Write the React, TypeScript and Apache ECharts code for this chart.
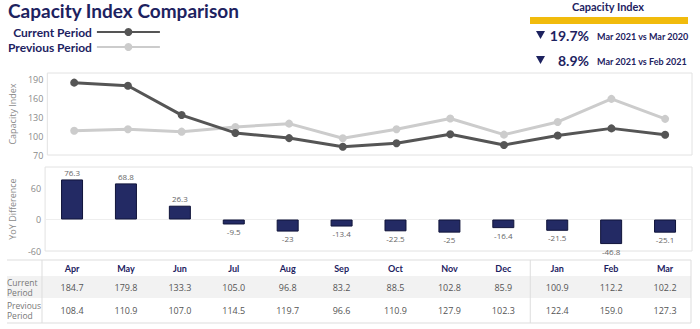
import React, { useEffect, useRef } from "react";
import * as echarts from "echarts";

const months = ["Apr", "May", "Jun", "Jul", "Aug", "Sep", "Oct", "Nov", "Dec", "Jan", "Feb", "Mar"];
const currentPeriod = [184.7, 179.8, 133.3, 105.0, 96.8, 83.2, 88.5, 102.8, 85.9, 100.9, 112.2, 102.2];
const previousPeriod = [108.4, 110.9, 107.0, 114.5, 119.7, 96.6, 110.9, 127.9, 102.3, 122.4, 159.0, 127.3];
const yoyDifference = [76.3, 68.8, 26.3, -9.5, -23, -13.4, -22.5, -25, -16.4, -21.5, -46.8, -25.1];
const kpiValues = ["19.7%", "8.9%"];
const kpiLabels = ["Mar 2021 vs Mar 2020", "Mar 2021 vs Feb 2021"];
const rowLabels = [["Current", "Period"], ["Previous", "Period"]];

const NAVY = "#1d225f";
const FONT = "'Open Sans', sans-serif";
const LATO = "Lato, sans-serif";

export default function App() {
  const ref = useRef<HTMLDivElement>(null);
  useEffect(() => {
    document.body.style.margin = "0";
    const chart = echarts.init(ref.current!, null, { renderer: "svg" });
    chart.setOption({
      animation: false,
      textStyle: { fontFamily: FONT },
      legend: {
        orient: "vertical",
        left: 8,
        top: 26,
        align: "right",
        itemWidth: 63,
        itemHeight: 10,
        itemGap: 3,
        padding: 0,
        data: ["Current Period", "Previous Period"],
        textStyle: { fontFamily: LATO, fontWeight: "bold", fontSize: 12, color: NAVY, width: 90, align: "left" },
      },
      grid: [
        { left: 41, right: 8, top: 73, height: 82, show: true, borderColor: "#e2e2e2", borderWidth: 1 },
        { left: 41, right: 8, top: 167, height: 84, show: true, borderColor: "#e2e2e2", borderWidth: 1 },
      ],
      xAxis: [
        { type: "category", gridIndex: 0, data: months, axisLine: { show: false }, axisTick: { show: false }, axisLabel: { show: false } },
        { type: "category", gridIndex: 1, data: months, axisLine: { show: true, onZero: true, lineStyle: { color: "#eeeeee" } }, axisTick: { show: false }, axisLabel: { show: false } },
      ],
      yAxis: [
        {
          type: "value", gridIndex: 0, min: 70, max: 200, interval: 30,
          splitLine: { show: false }, axisLine: { show: false }, axisTick: { show: false },
          axisLabel: { fontSize: 9, color: "#8a8a8a", margin: 4, formatter: (v: number) => (v > 195 ? "" : String(v)) },
          name: "Capacity Index", nameLocation: "middle", nameGap: 24,
          nameTextStyle: { fontSize: 9, color: "#8a8a8a" },
        },
        {
          type: "value", gridIndex: 1, min: -60, max: 100, interval: 60,
          splitLine: { show: false }, axisLine: { show: false }, axisTick: { show: false },
          axisLabel: { fontSize: 9, color: "#8a8a8a", margin: 4, formatter: (v: number) => (v > 90 ? "" : String(v)) },
          name: "YoY Difference", nameLocation: "middle", nameGap: 24,
          nameTextStyle: { fontSize: 9, color: "#8a8a8a" },
        },
      ],
      series: [
        {
          name: "Previous Period", type: "line", xAxisIndex: 0, yAxisIndex: 0, data: previousPeriod,
          symbol: "circle", symbolSize: 8,
          lineStyle: { color: "#cccccc", width: 3 }, itemStyle: { color: "#cccccc" },
        },
        {
          name: "Current Period", type: "line", xAxisIndex: 0, yAxisIndex: 0, data: currentPeriod,
          symbol: "circle", symbolSize: 8,
          lineStyle: { color: "#555555", width: 3 }, itemStyle: { color: "#555555" },
        },
        {
          name: "YoY", type: "bar", xAxisIndex: 1, yAxisIndex: 1, barWidth: 22,
          itemStyle: { color: "#232a64", borderColor: "#10143a", borderWidth: 1 },
          data: yoyDifference.map((v) => ({
            value: v,
            label: { show: true, position: v < 0 ? "bottom" : "top", distance: 3, fontSize: 8, color: "#666" },
          })),
        },
      ],
    });

    const xs = months.map((m) => chart.convertToPixel({ xAxisIndex: 1 }, m) as number);
    const tableLeft = 7;
    const tableRight = 691;
    const top = 260;
    const bottom = 323;
    const sepX = (xs[8] + xs[9]) / 2;
    const rowYs = [287, 310];
    const tableData = [currentPeriod, previousPeriod];
    const line = (x1: number, y1: number, x2: number, y2: number) => ({
      type: "line", shape: { x1, y1, x2, y2 }, style: { stroke: "#dddddd", lineWidth: 1 },
    });

    const g: any[] = [];
    g.push({ type: "text", left: 8, top: 1, style: { text: "Capacity Index Comparison", fontFamily: LATO, fontWeight: "bold", fontSize: 19, fill: NAVY } });
    g.push({ type: "text", x: 608, y: 6, style: { text: "Capacity Index", fontFamily: LATO, fontWeight: "bold", fontSize: 11, fill: NAVY, align: "center", verticalAlign: "middle" } });
    g.push({ type: "rect", shape: { x: 530, y: 17, width: 158, height: 7 }, style: { fill: "#f1bb0c" } });
    [35, 60].forEach((cy, i) => {
      g.push({ type: "polygon", shape: { points: [[536, cy - 4], [545, cy - 4], [540.5, cy + 4]] }, style: { fill: NAVY } });
      g.push({ type: "text", x: 589, y: cy, style: { text: kpiValues[i], fontFamily: LATO, fontWeight: "bold", fontSize: 14, fill: NAVY, align: "right", verticalAlign: "middle" } });
      g.push({ type: "text", x: 597, y: cy + 1, style: { text: kpiLabels[i], fontFamily: LATO, fontWeight: "bold", fontSize: 9, fill: NAVY, align: "left", verticalAlign: "middle" } });
    });
    g.push({ type: "rect", shape: { x: tableLeft, y: 276, width: tableRight - tableLeft, height: 22 }, style: { fill: "#f2f2f2" } });
    g.push(line(tableLeft, top, tableRight, top));
    g.push(line(tableLeft, bottom, tableRight, bottom));
    g.push(line(42, top, 42, bottom));
    g.push(line(sepX, top, sepX, bottom));
    g.push(line(tableRight, top, tableRight, bottom));
    months.forEach((m, i) => {
      g.push({ type: "text", x: xs[i], y: 268, style: { text: m, fontFamily: LATO, fontWeight: "bold", fontSize: 9, fill: NAVY, align: "center", verticalAlign: "middle" } });
      tableData.forEach((row, r) => {
        g.push({ type: "text", x: xs[i], y: rowYs[r], style: { text: row[i].toFixed(1), fontFamily: FONT, fontSize: 9, fill: "#555", align: "center", verticalAlign: "middle" } });
      });
    });
    rowLabels.forEach((lines, r) => {
      lines.forEach((t, k) => {
        g.push({ type: "text", x: 7, y: rowYs[r] - 5 + k * 10, style: { text: t, fontFamily: FONT, fontSize: 8.5, fill: "#777", align: "left", verticalAlign: "middle" } });
      });
    });
    chart.setOption({ graphic: g });

    return () => chart.dispose();
  }, []);
  return <div ref={ref} style={{ width: 700, height: 329 }} />;
}
